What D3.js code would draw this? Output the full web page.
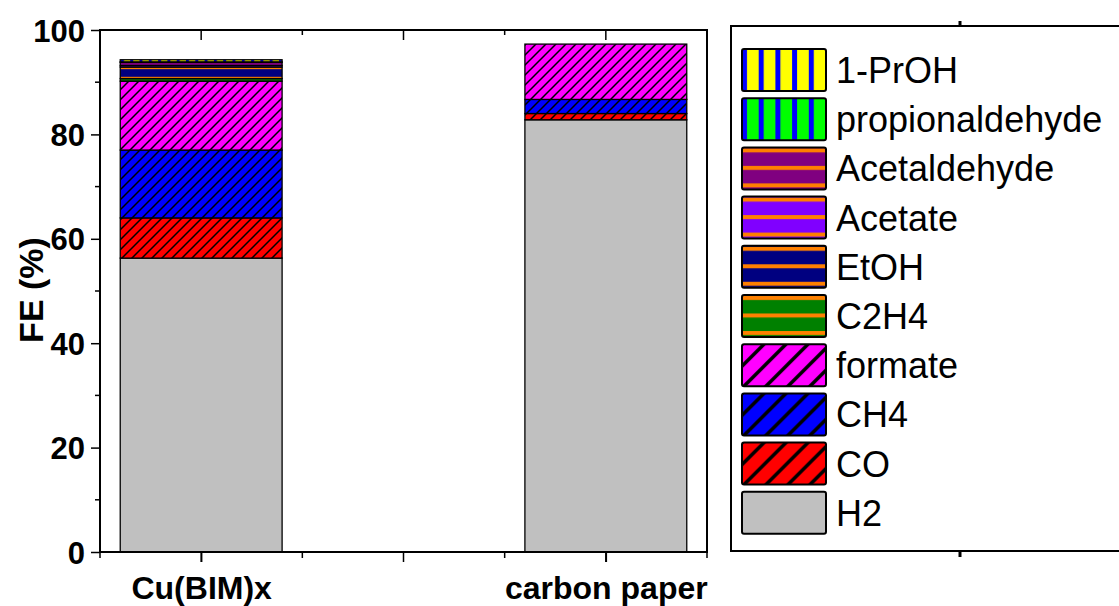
<!DOCTYPE html>
<html>
<head>
<meta charset="utf-8">
<script src="https://cdn.jsdelivr.net/npm/d3@7"></script>
<style>
  body { margin: 0; background: #fff; }
  text { font-family: "Liberation Sans", Arial, sans-serif; }
</style>
</head>
<body>
<div id="vis"></div>
<script>
// samples on the x axis
var categories = ["Cu(BIM)x", "carbon paper"];
var catPos = [1, 3];

// products, bottom of the stack first
var products = ["H2", "CO", "CH4", "formate", "C2H4", "EtOH", "Acetate", "Acetaldehyde", "propionaldehyde", "1-PrOH"];

// FE (%) per product, one value per sample
var H2 = [56.3, 82.8];
var CO = [7.7, 1.2];
var CH4 = [13.0, 2.7];
var formate = [13.2, 10.6];
var C2H4 = [0.5, 0];
var EtOH = [2.2, 0];
var Acetate = [0.3, 0];
var Acetaldehyde = [0.6, 0];
var propionaldehyde = [0.1, 0];
var PrOH = [0.4, 0];

var yTicks = [0, 20, 40, 60, 80, 100];

var seriesValues = {
  "H2": H2, "CO": CO, "CH4": CH4, "formate": formate, "C2H4": C2H4,
  "EtOH": EtOH, "Acetate": Acetate, "Acetaldehyde": Acetaldehyde,
  "propionaldehyde": propionaldehyde, "1-PrOH": PrOH
};

// fill styles (kind, base colour, line colour)
var styles = {
  "H2": {kind: "solid", base: "#c0c0c0"},
  "CO": {kind: "hatch", base: "#ff0000", line: "#000"},
  "CH4": {kind: "hatch", base: "#0000ff", line: "#000"},
  "formate": {kind: "hatch", base: "#ff00ff", line: "#000"},
  "C2H4": {kind: "hstripe", base: "#008000", line: "#ff8000"},
  "EtOH": {kind: "hstripe", base: "#000080", line: "#ff8000"},
  "Acetate": {kind: "hstripe", base: "#8000ff", line: "#ff8000"},
  "Acetaldehyde": {kind: "hstripe", base: "#800080", line: "#ff8000"},
  "propionaldehyde": {kind: "vstripe", base: "#00ff00", line: "#0000ff"},
  "1-PrOH": {kind: "vstripe", base: "#ffff00", line: "#0000ff"}
};

var rows = categories.map(function(c, i) {
  var r = {cat: c, pos: catPos[i]};
  products.forEach(function(p) { r[p] = seriesValues[p][i]; });
  return r;
});

var svg = d3.select("#vis").append("svg")
    .attr("width", 1119)
    .attr("height", 606);

var x = d3.scaleLinear().domain([0.5, 3.5]).range([100, 707]);
var y = d3.scaleLinear().domain([0, 100]).range([552, 30]);
var barW = x(1.4) - x(0.6);

var legX = 742, legY0 = 70, legStep = 49.2, swW = 84, swH = 42;

////////// patterns //////////
var defs = svg.append("defs");

// big = legend swatch version, ox/oy = where the swatch starts
function makePattern(id, st, big, ox, oy) {
  var pat = defs.append("pattern")
      .attr("id", id)
      .attr("patternUnits", "userSpaceOnUse");
  if (big) pat.attr("patternTransform", "translate(" + ox + "," + oy + ")");
  if (st.kind == "solid") {
    pat.attr("width", 10).attr("height", 10);
    pat.append("rect").attr("width", 10).attr("height", 10).attr("fill", st.base);
  }
  else if (st.kind == "hatch") {
    var s = big ? 22 : 10, w = big ? 3.5 : 1.5;
    pat.attr("width", s).attr("height", s);
    pat.append("rect").attr("width", s).attr("height", s).attr("fill", st.base);
    pat.append("path")
      .attr("d", "M0," + s + " L" + s + ",0 M" + (-s/4) + "," + (s/4) + " L" + (s/4) + "," + (-s/4) +
                 " M" + (3*s/4) + "," + (5*s/4) + " L" + (5*s/4) + "," + (3*s/4))
      .attr("stroke", st.line).attr("stroke-width", w);
  }
  else if (st.kind == "hstripe") {
    var s2 = big ? 17.5 : 9.6, w2 = big ? 4 : 2;
    pat.attr("width", 10).attr("height", s2);
    pat.append("rect").attr("width", 10).attr("height", s2).attr("fill", st.base);
    pat.append("rect").attr("y", big ? 1 : 0).attr("width", 10).attr("height", w2).attr("fill", st.line);
  }
  else {
    var s3 = big ? 16.7 : 9.3, w3 = big ? 5 : 3;
    pat.attr("width", s3).attr("height", 10);
    pat.append("rect").attr("width", s3).attr("height", 10).attr("fill", st.base);
    pat.append("rect").attr("x", 0).attr("width", w3).attr("height", 10).attr("fill", st.line);
  }
}

var legendOrder = products.slice().reverse();

products.forEach(function(p, i) {
  makePattern("bar" + i, styles[p], false, 0, 0);
  var li = legendOrder.indexOf(p);
  makePattern("leg" + i, styles[p], true, legX, legY0 + li * legStep - swH / 2);
});

////////// bars //////////
var stacked = d3.stack().keys(products)(rows);

svg.append("g").selectAll("g")
  .data(stacked)
  .enter().append("g")
    .attr("fill", function(d) { return "url(#bar" + d.index + ")"; })
  .selectAll("rect")
  .data(function(d) { return d.filter(function(e) { return e[1] - e[0] > 0; }); })
  .enter().append("rect")
    .attr("x", function(d) { return x(d.data.pos) - barW / 2; })
    .attr("y", function(d) { return y(d[1]); })
    .attr("width", barW)
    .attr("height", function(d) { return y(d[0]) - y(d[1]); })
    .attr("stroke", "#000")
    .attr("stroke-width", 1.3);

////////// axes //////////
var yAxis = d3.axisLeft(y).tickValues(yTicks).tickSize(9).tickPadding(6);
var gy = svg.append("g").attr("transform", "translate(100,0)").call(yAxis);
gy.selectAll(".tick text")
    .style("font-family", "'Liberation Sans', Arial, sans-serif")
    .style("font-size", "31px").style("font-weight", "bold").attr("dy", "0.36em");
gy.select(".domain").remove();

// minor y ticks
svg.append("g").selectAll("line")
  .data(d3.range(10, 100, 20))
  .enter().append("line")
    .attr("x1", 95).attr("x2", 100)
    .attr("y1", function(d) { return y(d); }).attr("y2", function(d) { return y(d); })
    .attr("stroke", "#000").attr("stroke-width", 1.5);

var xAxis = d3.axisBottom(x).tickValues(catPos).tickSize(10).tickPadding(14)
    .tickFormat(function(d, i) { return categories[i]; });
var gx = svg.append("g").attr("transform", "translate(0,552)").call(xAxis);
gx.selectAll(".tick text")
    .style("font-family", "'Liberation Sans', Arial, sans-serif")
    .style("font-size", "32px").style("font-weight", "bold");
gx.select(".domain").remove();
gx.selectAll(".tick line").attr("stroke-width", 1.5);
gy.selectAll(".tick line").attr("stroke-width", 1.5);

// unlabeled major and minor x ticks, bottom (outward) and top (inward)
var xMajor = [1, 2, 3], xMinor = [0.5, 1.5, 2.5, 3.5];
svg.append("g").selectAll("line")
  .data(xMajor.concat(xMinor))
  .enter().append("line")
    .attr("x1", function(d) { return x(d); }).attr("x2", function(d) { return x(d); })
    .attr("y1", 552)
    .attr("y2", function(d) { return xMajor.indexOf(d) >= 0 ? 562 : 558; })
    .attr("stroke", "#000").attr("stroke-width", 1.5);
svg.append("g").selectAll("line")
  .data(xMajor.concat(xMinor.slice(1, 3)))
  .enter().append("line")
    .attr("x1", function(d) { return x(d); }).attr("x2", function(d) { return x(d); })
    .attr("y1", 30)
    .attr("y2", function(d) { return xMajor.indexOf(d) >= 0 ? 40 : 35; })
    .attr("stroke", "#000").attr("stroke-width", 1.5);

// frame
svg.append("rect")
    .attr("x", 100).attr("y", 30)
    .attr("width", 607).attr("height", 522)
    .attr("fill", "none").attr("stroke", "#000").attr("stroke-width", 2);

svg.append("text")
    .attr("transform", "translate(43,290) rotate(-90)")
    .attr("text-anchor", "middle")
    .style("font-size", "34px").style("font-weight", "bold")
    .text("FE (%)");

////////// legend //////////
var legend = svg.append("g");
legend.append("line").attr("x1", 960).attr("x2", 960).attr("y1", 21).attr("y2", 27)
    .attr("stroke", "#000").attr("stroke-width", 3);
legend.append("line").attr("x1", 960).attr("x2", 960).attr("y1", 551).attr("y2", 557)
    .attr("stroke", "#000").attr("stroke-width", 3);
legend.append("rect")
    .attr("x", 731).attr("y", 26)
    .attr("width", 420).attr("height", 525)
    .attr("fill", "#fff").attr("stroke", "#000").attr("stroke-width", 2);

var entry = legend.selectAll("g.entry")
  .data(legendOrder)
  .enter().append("g")
    .attr("class", "entry");

entry.append("rect")
    .attr("x", legX)
    .attr("y", function(d, i) { return legY0 + i * legStep - swH / 2; })
    .attr("width", swW).attr("height", swH)
    .attr("rx", 2)
    .attr("fill", function(d) { return "url(#leg" + products.indexOf(d) + ")"; })
    .attr("stroke", "#000").attr("stroke-width", 2);

entry.append("text")
    .attr("x", 836)
    .attr("y", function(d, i) { return legY0 + i * legStep + 13; })
    .style("font-size", "36px")
    .text(function(d) { return d; });
</script>
</body>
</html>
